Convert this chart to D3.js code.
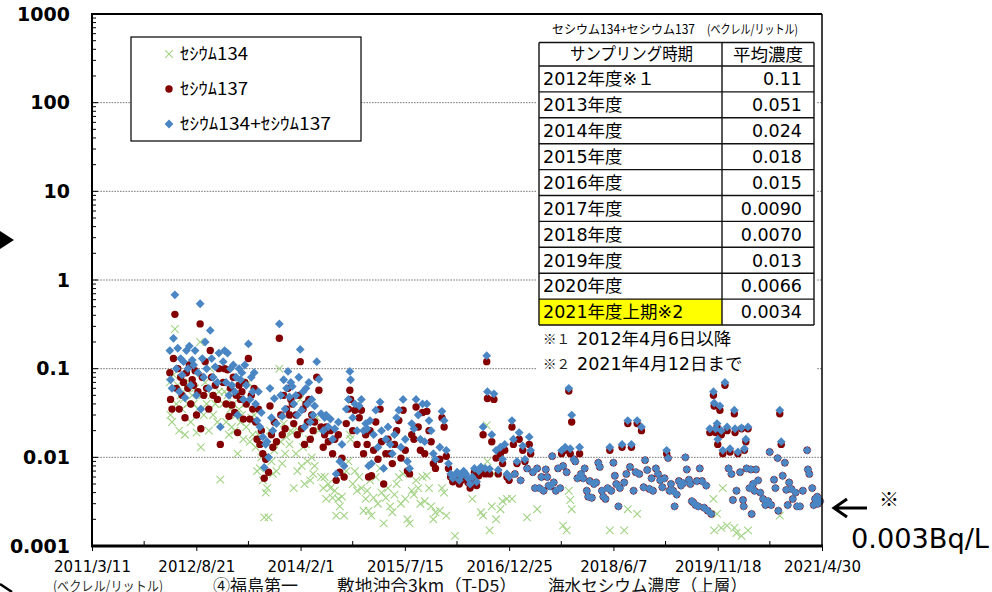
<!DOCTYPE html>
<html><head><meta charset="utf-8">
<script src="https://cdn.jsdelivr.net/npm/d3@7"></script>
<style>body{margin:0;background:#fff}svg{display:block}</style>
</head><body><svg id="c" width="992" height="592"></svg>
<script>
// ---------- axis categories ----------
const xTickLabels = ["2011/3/11","2012/8/21","2014/2/1","2015/7/15","2016/12/25","2018/6/7","2019/11/18","2021/4/30"];
const yTickValues = [0.001,0.01,0.1,1,10,100,1000];
const yTickLabels = ["0.001","0.01","0.1","1","10","100","1000"];
const gridValues = [0.01,0.1,1,10,100];

// ---------- sampling dates (decimal years) ----------
const sampleDates = [
 // 2012
 2012.27,2012.28,2012.30,2012.32,2012.34,2012.36,2012.38,2012.40,2012.42,2012.44,
 2012.46,2012.48,2012.50,2012.52,2012.54,2012.56,2012.58,2012.60,2012.62,2012.64,
 2012.66,2012.69,2012.70,2012.72,2012.74,2012.76,2012.78,2012.81,2012.83,2012.85,
 2012.87,2012.90,2012.93,2012.95,2012.97,
 // 2013
 2013.01,2013.03,2013.05,2013.07,2013.09,2013.11,2013.13,2013.15,2013.17,2013.19,
 2013.21,2013.23,2013.25,2013.27,2013.29,2013.31,2013.33,2013.36,2013.38,2013.40,
 2013.42,2013.44,2013.46,2013.48,2013.50,2013.52,2013.54,2013.56,2013.58,2013.60,
 2013.62,2013.64,2013.66,2013.68,2013.70,2013.72,2013.75,2013.79,2013.81,2013.83,
 2013.85,2013.87,2013.89,2013.91,2013.93,2013.95,2013.97,2013.99,
 // 2014
 2014.02,2014.04,2014.06,2014.08,2014.10,2014.12,2014.14,2014.16,2014.18,2014.20,
 2014.22,2014.24,2014.26,2014.28,2014.31,2014.34,2014.37,2014.40,2014.42,2014.44,
 2014.47,2014.50,2014.53,2014.56,2014.58,2014.61,2014.63,2014.66,2014.69,2014.72,
 2014.75,2014.77,2014.78,2014.81,2014.84,2014.87,2014.90,2014.93,2014.96,2014.99,
 // 2015
 2015.01,2015.03,2015.05,2015.07,2015.10,2015.13,2015.16,2015.19,2015.21,2015.24,
 2015.27,2015.30,2015.33,2015.36,2015.39,2015.42,2015.45,2015.48,2015.51,2015.54,
 2015.57,2015.60,2015.63,2015.66,2015.69,2015.72,2015.75,2015.78,2015.81,2015.84,
 2015.87,2015.90,2015.93,2015.96,
 // 2016
 2016.02,2016.05,2016.08,2016.11,2016.14,2016.17,2016.20,2016.23,2016.26,2016.29,
 2016.32,2016.35,2016.38,2016.41,2016.44,2016.47,2016.50,2016.53,2016.56,2016.59,
 2016.62,2016.65,2016.67,2016.68,2016.71,2016.74,2016.77,2016.80,2016.83,2016.86,
 2016.89,2016.92,2016.95,2016.98,
 // 2017
 2017.02,2017.04,2017.06,2017.09,2017.12,2017.14,2017.17,2017.20,2017.23,2017.26,
 2017.28,2017.31,2017.34,2017.37,2017.40,2017.43,2017.46,2017.49,2017.51,2017.53,
 2017.55,2017.58,2017.60,2017.63,2017.66,2017.69,2017.71,2017.73,2017.76,2017.78,
 2017.81,2017.83,2017.85,2017.88,2017.90,2017.93,2017.96,2017.98,
 // 2018
 2018.01,2018.03,2018.06,2018.08,2018.10,2018.13,2018.16,2018.19,2018.22,2018.24,
 2018.27,2018.29,2018.32,2018.35,2018.38,2018.40,2018.43,2018.45,2018.47,2018.50,
 2018.52,2018.55,2018.58,2018.61,2018.63,2018.66,2018.68,2018.71,2018.74,2018.76,
 2018.79,2018.82,2018.85,2018.87,2018.90,2018.93,2018.96,2018.98,
 // 2019
 2019.02,2019.05,2019.08,2019.11,2019.14,2019.17,2019.19,2019.21,2019.23,2019.26,
 2019.28,2019.31,2019.34,2019.37,2019.40,2019.43,2019.45,2019.48,2019.50,2019.52,
 2019.54,2019.57,2019.59,2019.61,2019.63,2019.66,2019.69,2019.72,2019.74,2019.77,
 2019.79,2019.82,2019.83,2019.85,2019.87,2019.88,2019.91,2019.93,2019.95,2019.98,
 // 2020-2021
 2020.01,2020.03,2020.05,2020.07,2020.09,2020.11,2020.12,2020.14,2020.16,2020.19,
 2020.21,2020.23,2020.24,2020.25,2020.27,2020.28,2020.30,2020.32,2020.34,2020.35,
 2020.37,2020.39,2020.41,2020.44,2020.47,2020.51,2020.54,2020.58,2020.60,2020.62,
 2020.66,2020.68,2020.71,2020.72,2020.74,2020.76,2020.78,2020.81,2020.83,2020.85,
 2020.87,2020.90,2020.92,2020.96,2020.98,2021.02,2021.06,2021.12,2021.13,2021.15,
 2021.19,2021.21,2021.23,2021.26,2021.27,2021.30
];

// ---------- セシウム134 (null = not detected) ----------
const cs134 = [
 0.07,0.03,0.025,0.085,0.28,0.04,0.065,0.02,0.05,0.035,
 0.045,0.018,0.06,0.04,0.07,0.025,0.05,0.04,0.06,0.019,
 0.035,0.2,0.013,0.05,0.03,0.07,0.04,0.02,0.1,0.05,
 0.03,0.04,0.025,0.055,0.0056,
 0.04,0.055,0.025,0.05,0.018,0.035,0.022,0.04,0.02,0.03,
 0.011,0.035,0.025,0.03,0.016,0.04,0.022,0.07,0.015,0.028,
 0.018,0.03,0.013,0.007,0.018,0.0075,0.01,0.0055,0.0021,0.004,
 0.0045,0.0021,0.02,0.009,0.0065,0.012,0.007,0.1,0.015,0.0085,
 0.024,0.011,0.017,0.03,0.014,0.02,0.019,0.0045,
 0.011,0.007,0.02,0.045,0.008,0.013,0.005,0.014,0.009,0.016,
 0.0055,0.01,0.0065,0.008,0.028,0.02,0.006,0.0045,0.006,0.0034,
 0.005,0.0045,0.0035,0.0042,0.0022,0.0034,0.0028,0.0036,0.0022,0.007,
 0.009,0.018,0.016,0.005,0.007,0.0042,0.006,0.0045,0.0025,0.0034,
 0.0042,0.0025,0.0055,0.0022,0.0035,0.006,0.003,0.0075,0.004,0.0018,
 0.0035,0.0045,0.0028,0.0024,0.0038,0.005,0.006,0.003,0.0065,0.0034,
 0.002,0.0018,0.0042,0.0038,0.0055,0.0045,0.003,0.006,0.0032,0.0062,
 0.0045,0.0028,0.002,0.0024,
 0.0025,0.0045,0.004,0.0022,null,null,null,0.0013,null,null,
 null,null,null,null,null,0.0034,null,null,null,0.0024,
 0.0022,null,0.023,0.009,0.0015,0.0028,0.0065,0.002,null,0.0026,
 0.0032,null,0.0034,null,
 0.0034,null,null,null,null,null,null,null,0.0021,null,
 null,null,null,0.0026,null,null,null,null,null,null,
 null,null,null,null,null,null,null,0.0017,null,0.0015,
 0.0042,0.0033,0.0026,null,null,null,null,null,
 null,null,null,null,null,null,null,null,null,null,
 null,null,null,null,0.0015,null,null,null,null,null,
 null,null,0.0015,null,0.0026,null,null,null,null,0.0023,
 null,null,null,null,null,null,null,null,
 null,null,null,null,null,null,null,null,null,null,
 null,null,null,null,null,null,null,null,null,null,
 null,null,null,null,null,null,null,null,null,null,
 null,0.0034,0.0015,null,0.0023,null,null,0.0016,0.0045,null,
 0.0017,null,null,null,null,0.0016,null,0.0014,null,null,
 0.0013,null,null,null,null,null,0.0015,null,null,null,
 null,null,null,null,null,null,null,null,null,null,
 null,null,null,null,0.0022,null,null,null,null,null,
 null,null,null,null,null,null,null,null,null,null,
 null,null,null,null,null,null
];

// ---------- セシウム137 ----------
const cs137 = [
 0.09,0.045,0.035,0.13,0.41,0.06,0.1,0.035,0.08,0.05,
 0.07,0.028,0.09,0.06,0.11,0.04,0.075,0.065,0.095,0.03,
 0.055,0.32,0.021,0.08,0.05,0.12,0.06,0.035,0.16,0.08,
 0.05,0.065,0.045,0.1,0.014,
 0.07,0.1,0.04,0.097,0.029,0.06,0.039,0.08,0.032,0.05,
 0.019,0.065,0.045,0.055,0.027,0.07,0.04,0.13,0.027,0.05,
 0.035,0.06,0.025,0.016,0.035,0.014,0.02,0.011,0.0058,0.0095,
 0.01,0.0068,0.038,0.018,0.013,0.025,0.015,0.22,0.03,0.018,
 0.05,0.021,0.035,0.06,0.03,0.045,0.04,0.024,
 0.03,0.018,0.05,0.12,0.021,0.035,0.014,0.04,0.025,0.045,
 0.016,0.03,0.02,0.025,0.08,0.057,0.022,0.013,0.018,0.022,
 0.015,0.02,0.011,0.016,0.0055,0.018,0.0068,0.0098,0.006,0.024,
 0.035,0.057,0.045,0.02,0.034,0.014,0.028,0.034,0.011,0.018,
 0.014,0.006,0.02,0.0062,0.012,0.025,0.0095,0.035,0.015,0.005,
 0.011,0.016,0.011,0.0085,0.014,0.02,0.026,0.0098,0.034,0.012,
 0.007,0.0065,0.018,0.016,0.037,0.022,0.012,0.032,0.011,0.033,
 0.02,0.015,0.0085,0.0075,
 0.0095,0.028,0.022,0.0103,0.0075,0.006,0.0053,0.0058,0.0062,0.005,
 0.0055,0.0065,0.006,0.0052,0.0045,0.0055,0.0068,0.0048,0.0062,0.007,
 0.018,0.0065,0.12,0.046,0.0065,0.015,0.045,0.0098,0.0065,0.011,
 0.0085,0.012,0.006,0.0055,
 0.022,0.014,0.0065,0.0085,0.016,0.0055,0.012,0.009,0.0075,0.014,
 0.011,0.0068,0.0045,0.0075,0.0045,0.006,0.0042,0.0073,0.006,0.0048,
 0.0047,0.0103,0.0052,0.0042,0.0075,0.0045,0.011,0.008,0.012,0.0068,
 0.056,0.011,0.025,0.0095,0.009,0.0058,0.011,0.0065,
 0.0058,0.0075,0.0042,0.0036,0.0054,0.0035,0.005,0.0052,0.0087,0.0078,
 0.0042,0.0036,0.0034,0.0045,0.012,0.0042,0.0087,0.0062,0.005,0.0028,
 0.0045,0.013,0.0052,0.0065,0.024,0.0078,0.013,0.0042,0.0068,0.024,
 0.0065,0.02,0.0046,0.0093,0.0072,0.0044,0.0058,0.0042,
 0.0075,0.0065,0.0055,0.0046,0.0058,0.011,0.0098,0.0042,0.005,0.0042,
 0.0028,0.0038,0.0054,0.0048,0.0051,0.01,0.0073,0.0056,0.005,0.0032,
 0.0031,0.0029,0.0054,0.0028,0.0075,0.0054,0.0027,0.0048,0.0025,0.019,
 0.0023,0.05,0.038,0.019,0.022,0.014,0.034,0.018,0.011,0.065,
 0.02,0.0075,0.0115,0.0065,0.0033,0.031,0.019,0.0042,0.011,0.0068,
 0.021,0.0033,0.0028,0.012,0.015,0.0075,0.021,0.0045,0.0073,0.0023,
 0.005,0.0042,0.0073,0.0055,0.004,0.0034,0.0029,0.0032,0.0115,0.0029,
 0.0056,0.0045,0.0098,0.0025,0.031,0.014,0.0062,0.0087,0.0043,0.0029,
 0.0052,0.0044,0.0034,0.004,0.0028,0.0028,0.0042,0.012,0.0073,0.0065,
 0.0045,0.0029,0.0034,0.0036,0.003,0.0032
];

// ---------- セシウム134+セシウム137 ----------
const csTotal = [
 0.16,0.075,0.06,0.22,0.68,0.1,0.17,0.055,0.13,0.085,
 0.12,0.047,0.16,0.1,0.18,0.065,0.125,0.11,0.16,0.05,
 0.09,0.54,0.035,0.13,0.08,0.2,0.1,0.06,0.27,0.13,
 0.08,0.105,0.07,0.15,0.022,
 0.12,0.16,0.07,0.15,0.05,0.1,0.065,0.11,0.055,0.08,
 0.03,0.1,0.075,0.09,0.045,0.11,0.065,0.19,0.045,0.08,
 0.055,0.09,0.04,0.026,0.055,0.022,0.032,0.017,0.0077,0.014,
 0.015,0.01,0.06,0.028,0.02,0.046,0.024,0.32,0.05,0.029,
 0.075,0.035,0.06,0.093,0.048,0.07,0.063,0.04,
 0.05,0.03,0.08,0.165,0.034,0.055,0.022,0.06,0.04,0.07,
 0.025,0.045,0.03,0.038,0.12,0.076,0.031,0.02,0.028,0.03,
 0.022,0.027,0.016,0.021,0.0065,0.025,0.009,0.014,0.008,0.035,
 0.045,0.093,0.075,0.028,0.04,0.02,0.038,0.045,0.02,0.024,
 0.021,0.008,0.026,0.0085,0.018,0.034,0.013,0.042,0.02,0.0075,
 0.016,0.022,0.014,0.011,0.018,0.028,0.034,0.013,0.045,0.016,
 0.009,0.0075,0.024,0.021,0.045,0.03,0.016,0.04,0.015,0.04,
 0.026,0.02,0.011,0.0095,
 0.013,0.033,0.026,0.012,0.0085,0.0065,0.0058,0.0063,0.0068,0.0055,
 0.0062,0.007,0.0065,0.0058,0.005,0.006,0.0075,0.0053,0.007,0.0078,
 0.022,0.0075,0.14,0.055,0.0074,0.018,0.052,0.012,0.0072,0.013,
 0.0095,0.014,0.0065,0.006,
 0.026,0.016,0.0065,0.009,0.019,0.0055,0.0135,0.0095,0.0075,0.017,
 0.012,0.0068,0.0045,0.0075,0.0045,0.006,0.0042,0.0073,0.006,0.0048,
 0.0047,0.0103,0.0052,0.0042,0.0075,0.0045,0.012,0.008,0.013,0.0068,
 0.06,0.0125,0.03,0.0095,0.009,0.0058,0.013,0.0065,
 0.0058,0.0075,0.0042,0.0036,0.0054,0.0035,0.005,0.0052,0.0087,0.0078,
 0.0042,0.0036,0.0034,0.0045,0.013,0.0042,0.0087,0.0062,0.005,0.0028,
 0.0045,0.014,0.0052,0.0065,0.026,0.0078,0.014,0.0042,0.0068,0.026,
 0.0065,0.022,0.0046,0.0093,0.0072,0.0044,0.0058,0.0042,
 0.0075,0.0065,0.0055,0.0046,0.0058,0.012,0.0098,0.0042,0.005,0.0042,
 0.0028,0.0038,0.0054,0.0048,0.0051,0.01,0.0073,0.0056,0.005,0.0032,
 0.0031,0.0029,0.0054,0.0028,0.0075,0.0054,0.0027,0.0048,0.0025,0.021,
 0.0023,0.055,0.041,0.021,0.024,0.016,0.038,0.02,0.012,0.07,
 0.022,0.0075,0.0125,0.0065,0.0033,0.034,0.021,0.0042,0.0115,0.0068,
 0.0215,0.0033,0.0028,0.0125,0.016,0.0075,0.022,0.0045,0.0073,0.0023,
 0.005,0.0042,0.0073,0.0055,0.004,0.0034,0.0029,0.0032,0.0115,0.0029,
 0.0056,0.0045,0.0098,0.0025,0.034,0.015,0.0062,0.0087,0.0043,0.0029,
 0.0052,0.0044,0.0034,0.004,0.0028,0.0028,0.0042,0.012,0.0073,0.0065,
 0.0045,0.0029,0.0034,0.0036,0.003,0.0032
];

// ---------- legend / table / texts ----------
const legendLabels = ["ｾｼｳﾑ134","ｾｼｳﾑ137","ｾｼｳﾑ134+ｾｼｳﾑ137"];
const tableTitle = ["セシウム134+セシウム137","(ベクレル/リットル)"];
const tableHeader = ["サンプリング時期","平均濃度"];
const tablePeriods = ["2012年度※１","2013年度","2014年度","2015年度","2016年度","2017年度","2018年度","2019年度","2020年度","2021年度上期※2"];
const tableAverages = ["0.11","0.051","0.024","0.018","0.015","0.0090","0.0070","0.013","0.0066","0.0034"];
const footnoteMarks = ["※１","※２"];
const footnoteTexts = ["2012年4月6日以降","2021年4月12日まで"];
const chartTitle = ["④福島第一","敷地沖合3km（T-D5）","海水セシウム濃度（上層）"];
const unitLabel = "(ベクレル/リットル)";
const noteMark = "※";
const noteValue = "0.003Bq/L";

// ---------- helpers ----------
function decYear(v){const yr=Math.floor(v);const s=Date.UTC(yr,0,1),e=Date.UTC(yr+1,0,1);return new Date(s+(v-yr)*(e-s));}
function parseLabel(s){const p=s.split("/").map(Number);return new Date(Date.UTC(p[0],p[1]-1,p[2]));}

const svg = d3.select("#c");
const L=92,R=822,T=14,B=546;
const xTickDates = xTickLabels.map(parseLabel);
const x = d3.scaleUtc().domain([xTickDates[0], xTickDates[xTickDates.length-1]]).range([L,R]);
const y = d3.scaleLog().domain([0.001,1000]).range([B,T]);

const JP = "'Noto Sans CJK JP','Noto Sans',sans-serif";
const LAT = "'DejaVu Sans','Noto Sans CJK JP',sans-serif";
const GREEN = "#a2d384", RED = "#840000", BLUE = "#4a86c4";
const XPATH = "M-3.8,-3.8L3.8,3.8M-3.8,3.8L3.8,-3.8";
const DPATH = "M0,-4.4L4.4,0L0,4.4L-4.4,0Z";

// gridlines
svg.append("g").selectAll("line").data(gridValues).join("line")
  .attr("x1",L).attr("x2",R).attr("y1",d=>y(d)).attr("y2",d=>y(d))
  .attr("stroke","#6a6a6a").attr("stroke-width",0.9).attr("stroke-dasharray","1.6,1.2");

// y minor/major ticks (inside)
const yAllTicks=[];
for(let e=-3;e<3;e++){for(let m=1;m<10;m++){yAllTicks.push({v:m*Math.pow(10,e),major:m===1});}}
yAllTicks.push({v:1000,major:true});
svg.append("g").selectAll("line").data(yAllTicks).join("line")
  .attr("x1",L).attr("x2",d=>L+(d.major?6:4)).attr("y1",d=>y(d.v)).attr("y2",d=>y(d.v))
  .attr("stroke","#000").attr("stroke-width",1);

// y labels
const yAxis = svg.append("g").attr("transform",`translate(${L},0)`)
  .call(d3.axisLeft(y).tickValues(yTickValues).tickFormat((d,i)=>yTickLabels[i]).tickSize(0).tickPadding(22));
yAxis.select(".domain").remove();
yAxis.selectAll("text").attr("font-family",LAT).attr("font-weight","bold").attr("font-size",19).attr("fill","#000");

// data points
const pts = sampleDates.map((d,i)=>({t:decYear(d),c134:cs134[i],c137:cs137[i],tot:csTotal[i]}));
const gData = svg.append("g");
gData.selectAll("path.g134").data(pts.filter(p=>p.c134!=null)).join("path").attr("class","g134")
  .attr("transform",p=>`translate(${x(p.t)},${y(p.c134)})`)
  .attr("d",XPATH).attr("stroke",GREEN).attr("stroke-width",1.1).attr("fill","none");
gData.selectAll("circle.g137").data(pts.filter(p=>p.c137!=null)).join("circle").attr("class","g137")
  .attr("cx",p=>x(p.t)).attr("cy",p=>y(p.c137)).attr("r",3.7).attr("fill",RED);
gData.selectAll("path.gtot").data(pts.filter(p=>p.tot!=null)).join("path").attr("class","gtot")
  .attr("transform",p=>`translate(${x(p.t)},${y(p.tot)})`)
  .attr("d",DPATH).attr("fill",BLUE);

// frame
svg.append("line").attr("x1",L).attr("x2",R).attr("y1",T).attr("y2",T).attr("stroke","#000").attr("stroke-width",2.2);
svg.append("line").attr("x1",R).attr("x2",R).attr("y1",T).attr("y2",B).attr("stroke","#000").attr("stroke-width",1.5);
svg.append("line").attr("x1",L).attr("x2",L).attr("y1",T-1).attr("y2",B).attr("stroke","#000").attr("stroke-width",2);

// x axis
const xAxis = svg.append("g").attr("transform",`translate(0,${B})`)
  .call(d3.axisBottom(x).tickValues(xTickDates).tickFormat((d,i)=>xTickLabels[i]).tickSize(5).tickPadding(10).tickSizeOuter(0));
xAxis.select(".domain").attr("stroke-width",3).attr("d",`M${L-1},0H${R+1}`);
xAxis.selectAll(".tick line").attr("stroke-width",1);
xAxis.selectAll("text").attr("font-family",LAT).attr("font-size",15).attr("fill","#000");
const minor = d3.pairs(xTickDates).map(([a,b])=>new Date((+a + +b)/2));
svg.append("g").selectAll("line").data(minor).join("line")
  .attr("x1",d=>x(d)).attr("x2",d=>x(d)).attr("y1",B).attr("y2",B-5).attr("stroke","#000").attr("stroke-width",1);

// legend
const lg = svg.append("g");
lg.append("rect").attr("x",131).attr("y",37).attr("width",230).attr("height",104).attr("fill","#fff").attr("stroke","#000").attr("stroke-width",1.2);
const lgY=[54,89,124];
lg.append("path").attr("transform",`translate(169,${lgY[0]})`).attr("d",XPATH).attr("stroke",GREEN).attr("stroke-width",1.1).attr("fill","none");
lg.append("circle").attr("cx",169).attr("cy",lgY[1]).attr("r",3.7).attr("fill",RED);
lg.append("path").attr("transform",`translate(169,${lgY[2]})`).attr("d",DPATH).attr("fill",BLUE);
const lgW=[68,68,151];
lg.selectAll("text").data(legendLabels).join("text")
  .attr("x",180).attr("y",(d,i)=>lgY[i]).attr("dy","0.36em")
  .attr("font-family",JP).attr("font-size",17).attr("fill","#000")
  .attr("textLength",(d,i)=>lgW[i]).attr("lengthAdjust","spacingAndGlyphs").text(d=>d);

// table
const tb = svg.append("g");
tb.append("rect").attr("x",537).attr("y",20).attr("width",280).attr("height",358).attr("fill","#fff");
tb.append("text").attr("x",552).attr("y",34).attr("font-family",JP).attr("font-size",12.5)
  .attr("textLength",143).attr("lengthAdjust","spacingAndGlyphs").text(tableTitle[0]);
tb.append("text").attr("x",707).attr("y",34).attr("font-family",JP).attr("font-size",12.5)
  .attr("textLength",91).attr("lengthAdjust","spacingAndGlyphs").text(tableTitle[1]);
const tL=539,tM=722,tR=814,tTop=42.5,hB=66,rh=25.9;
tb.append("rect").attr("x",tL).attr("y",hB+(tablePeriods.length-1)*rh).attr("width",tM-tL).attr("height",rh).attr("fill","#ffff00");
const rowYs=[tTop,hB].concat(tablePeriods.map((p,i)=>hB+(i+1)*rh));
tb.selectAll("line.h").data(rowYs).join("line").attr("class","h")
  .attr("x1",tL).attr("x2",tR).attr("y1",d=>d).attr("y2",d=>d).attr("stroke","#111").attr("stroke-width",1.4);
[tL,tM,tR].forEach(xx=>tb.append("line").attr("x1",xx).attr("x2",xx).attr("y1",tTop).attr("y2",rowYs[rowYs.length-1]).attr("stroke","#111").attr("stroke-width",1.4));
tb.append("text").attr("x",570).attr("y",(tTop+hB)/2).attr("dy","0.36em").attr("font-family",JP).attr("font-size",17)
  .attr("textLength",123).attr("lengthAdjust","spacingAndGlyphs").text(tableHeader[0]);
tb.append("text").attr("x",768).attr("y",(tTop+hB)/2).attr("dy","0.36em").attr("text-anchor","middle").attr("font-family",JP).attr("font-size",17.5).text(tableHeader[1]);
tb.selectAll("text.per").data(tablePeriods).join("text").attr("class","per")
  .attr("x",543).attr("y",(d,i)=>hB+(i+0.5)*rh).attr("dy","0.36em")
  .attr("font-family",LAT).attr("font-size",17.5).text(d=>d);
tb.selectAll("text.avg").data(tableAverages).join("text").attr("class","avg")
  .attr("x",802).attr("y",(d,i)=>hB+(i+0.5)*rh).attr("dy","0.36em").attr("text-anchor","end")
  .attr("font-family",LAT).attr("font-size",17.5).text(d=>d);
// footnotes
const fnY=[339,364];
footnoteMarks.forEach((m,i)=>{
  tb.append("text").attr("x",543).attr("y",fnY[i]).attr("dy","0.36em").attr("font-family",JP).attr("font-size",13.5).attr("fill","#222").text(m);
  tb.append("text").attr("x",577).attr("y",fnY[i]).attr("dy","0.36em").attr("font-family",LAT).attr("font-size",17.5).text(footnoteTexts[i]);
});

// right annotation
svg.append("path").attr("d","M867,508H835M847,499L834,508L847,517").attr("stroke","#000").attr("stroke-width",3).attr("fill","none");
svg.append("text").attr("x",889).attr("y",500).attr("dy","0.36em").attr("text-anchor","middle").attr("font-family",JP).attr("font-size",20).text(noteMark);
svg.append("text").attr("x",851).attr("y",548).attr("font-family",LAT).attr("font-size",27)
  .attr("textLength",138).attr("lengthAdjust","spacingAndGlyphs").text(noteValue);

// left arrow heads (cut off)
svg.append("path").attr("d","M0,231L14,240L0,249Z").attr("fill","#000");
svg.append("path").attr("d","M0,584L12,592").attr("stroke","#000").attr("stroke-width",2.5);

// bottom texts
svg.append("text").attr("x",53).attr("y",591).attr("font-family",JP).attr("font-size",13.5).attr("fill","#333")
  .attr("textLength",110).attr("lengthAdjust","spacingAndGlyphs").text(unitLabel);
const ctX=[213,337,548], ctW=[85,180,199];
chartTitle.forEach((t,i)=>{
  svg.append("text").attr("x",ctX[i]).attr("y",592).attr("font-family",JP).attr("font-size",17).attr("fill","#111")
    .attr("textLength",ctW[i]).attr("lengthAdjust","spacingAndGlyphs").text(t);
});
</script></body></html>
